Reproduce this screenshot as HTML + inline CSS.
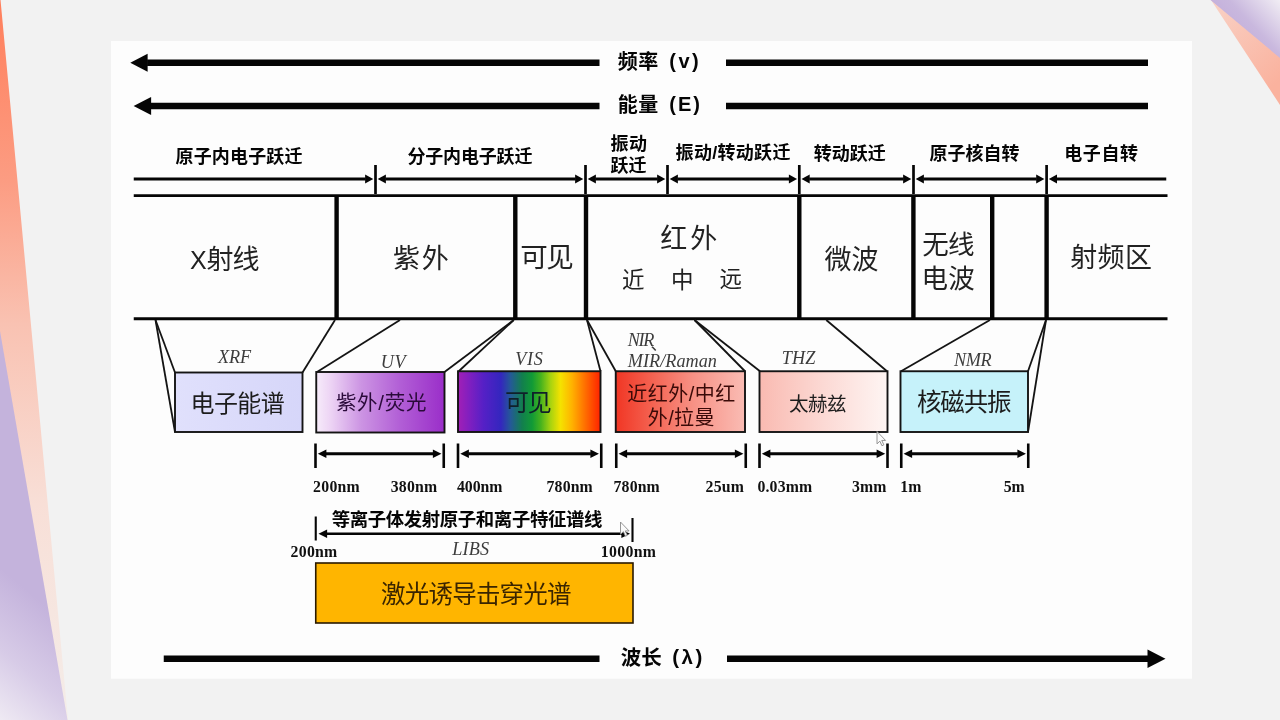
<!DOCTYPE html>
<html lang="zh-CN">
<head>
<meta charset="utf-8">
<title>电磁波谱与光谱分析技术</title>
<style>
html,body{margin:0;padding:0;background:#f2f2f2;}
body{width:1280px;height:720px;overflow:hidden;font-family:"Liberation Sans",sans-serif;}
svg{display:block;}
#dia{filter:blur(0.55px);}
.hb{font-family:"Liberation Sans","Noto Sans CJK SC",sans-serif;font-weight:bold;}
.kt{font-family:"Liberation Sans","Noto Sans CJK SC",sans-serif;}
</style>
</head>
<body>
<svg width="1280" height="720" viewBox="0 0 1280 720" font-family="'Liberation Serif', serif">
<defs>
<linearGradient id="gO1" x1="0" y1="0" x2="0" y2="1"><stop offset="0" stop-color="#ff7f5c"/><stop offset="0.25" stop-color="#fc9c82"/><stop offset="0.45" stop-color="#f9c2b2"/><stop offset="0.7" stop-color="#f8dfd7"/><stop offset="1" stop-color="#f4ede9"/></linearGradient>
<linearGradient id="gP1" gradientUnits="userSpaceOnUse" x1="34" y1="596" x2="-46" y2="692"><stop offset="0" stop-color="#c4b3dc"/><stop offset="0.5" stop-color="#d7cbe7"/><stop offset="1" stop-color="#f2eef5"/></linearGradient>
<linearGradient id="gP2" x1="0.3" y1="0.55" x2="1" y2="0"><stop offset="0" stop-color="#c3afdb"/><stop offset="0.35" stop-color="#c9b8de"/><stop offset="1" stop-color="#f1edf4"/></linearGradient>
<linearGradient id="gO2" x1="0" y1="0" x2="0.6" y2="1"><stop offset="0" stop-color="#f9d2c6"/><stop offset="1" stop-color="#fab29e"/></linearGradient>
<linearGradient id="gUV" x1="0" y1="0" x2="1" y2="0"><stop offset="0" stop-color="#f7ecfa"/><stop offset="0.12" stop-color="#ecd2f4"/><stop offset="0.35" stop-color="#cc94e3"/><stop offset="0.65" stop-color="#b25fd6"/><stop offset="1" stop-color="#9a2ec9"/></linearGradient>
<linearGradient id="gVIS" x1="0" y1="0" x2="1" y2="0"><stop offset="0" stop-color="#a21fb6"/><stop offset="0.08" stop-color="#801fc0"/><stop offset="0.18" stop-color="#5520c6"/><stop offset="0.30" stop-color="#3426be"/><stop offset="0.37" stop-color="#245a96"/><stop offset="0.45" stop-color="#127f4e"/><stop offset="0.52" stop-color="#119a36"/><stop offset="0.58" stop-color="#45b21e"/><stop offset="0.65" stop-color="#a8d30f"/><stop offset="0.72" stop-color="#f5e200"/><stop offset="0.80" stop-color="#ffb200"/><stop offset="0.89" stop-color="#ff7000"/><stop offset="1" stop-color="#ff2200"/></linearGradient>
<linearGradient id="gNIR" x1="0" y1="0" x2="1" y2="0"><stop offset="0" stop-color="#f13624"/><stop offset="0.3" stop-color="#f46554"/><stop offset="0.6" stop-color="#f79185"/><stop offset="1" stop-color="#fabcb4"/></linearGradient>
<linearGradient id="gTHZ" x1="0" y1="0" x2="1" y2="0"><stop offset="0" stop-color="#f9bab1"/><stop offset="0.5" stop-color="#fcd9d4"/><stop offset="1" stop-color="#fef5f3"/></linearGradient>
<linearGradient id="gXRF" x1="0" y1="0" x2="1" y2="0"><stop offset="0" stop-color="#e0e0fc"/><stop offset="1" stop-color="#d6d6f9"/></linearGradient>
</defs>
<rect x="0" y="0" width="1280" height="720" fill="#f2f2f2"/>
<polygon points="0,0 0.5,0 68,720 0,720" fill="url(#gO1)"/>
<polygon points="0,331 67.5,720 0,720" fill="url(#gP1)"/>
<polygon points="1211,0 1280,105 1280,0" fill="url(#gO2)"/>
<polygon points="1210.5,0 1280,58 1280,0" fill="url(#gP2)"/>
<rect x="111" y="41" width="1081" height="637.75" fill="#fdfdfd"/>
<g id="dia">
<polygon points="130.3,62.65 147.6,53.65 147.6,71.65" fill="#050505"/>
<line x1="147.1" y1="62.65" x2="599.5" y2="62.65" stroke="#050505" stroke-width="6.5"/>
<line x1="726" y1="62.65" x2="1148" y2="62.65" stroke="#050505" stroke-width="6.5"/>
<polygon points="133.6,106.05 151.1,97.05 151.1,115.05" fill="#050505"/>
<line x1="150.6" y1="106.05" x2="599.5" y2="106.05" stroke="#050505" stroke-width="6.5"/>
<line x1="726" y1="106.05" x2="1148" y2="106.05" stroke="#050505" stroke-width="6.5"/>
<line x1="163.75" y1="658.75" x2="599.5" y2="658.75" stroke="#050505" stroke-width="6.4"/>
<line x1="727" y1="658.75" x2="1148" y2="658.75" stroke="#050505" stroke-width="6.4"/>
<polygon points="1165.5,658.75 1147.5,649.5 1147.5,668" fill="#050505"/>
<text class="hb" x="617.8" y="69.1" font-size="20" letter-spacing="0.4" fill="#050505">频率</text>
<text class="hb" x="669.3" y="68.31" font-size="20" letter-spacing="2.5" fill="#050505">(v)</text>
<text class="hb" x="617.8" y="111.77" font-size="20" letter-spacing="0.5" fill="#050505">能量</text>
<text class="hb" x="669.3" y="110.81" font-size="20" letter-spacing="2" fill="#050505">(E)</text>
<text class="hb" x="620.7" y="665.03" font-size="20.5" fill="#050505">波长</text>
<text class="hb" x="672.3" y="664.22" font-size="20.5" letter-spacing="2.5" fill="#050505">(λ)</text>
<text class="hb" x="175.6" y="163.28" font-size="18" letter-spacing="0.14" fill="#050505">原子内电子跃迁</text>
<text class="hb" x="407.4" y="163.28" font-size="18" letter-spacing="-0.16" fill="#050505">分子内电子跃迁</text>
<text class="hb" x="610.6" y="150.29" font-size="18" letter-spacing="0.3" fill="#050505">振动</text>
<text class="hb" x="610.6" y="172" font-size="18" letter-spacing="-0.16" fill="#050505">跃迁</text>
<text class="hb" x="675.6" y="159.02" font-size="18" letter-spacing="0.3" fill="#050505">振动/转动跃迁</text>
<text class="hb" x="813.7" y="159.78" font-size="18" fill="#050505">转动跃迁</text>
<text class="hb" x="929.6" y="159.88" font-size="18" fill="#050505">原子核自转</text>
<text class="hb" x="1064.25" y="159.8" font-size="18" letter-spacing="0.6" fill="#050505">电子自转</text>
<line x1="133.75" y1="179" x2="365.6" y2="179" stroke="#050505" stroke-width="2.9"/>
<polygon points="373.3,179 365.1,174.4 365.1,183.6" fill="#050505"/>
<line x1="385.4" y1="179" x2="575.6" y2="179" stroke="#050505" stroke-width="2.9"/>
<polygon points="377.7,179 385.9,174.4 385.9,183.6" fill="#050505"/>
<polygon points="583.3,179 575.1,174.4 575.1,183.6" fill="#050505"/>
<line x1="595.4" y1="179" x2="657.6" y2="179" stroke="#050505" stroke-width="2.9"/>
<polygon points="587.7,179 595.9,174.4 595.9,183.6" fill="#050505"/>
<polygon points="665.3,179 657.1,174.4 657.1,183.6" fill="#050505"/>
<line x1="677.4" y1="179" x2="789.4" y2="179" stroke="#050505" stroke-width="2.9"/>
<polygon points="669.7,179 677.9,174.4 677.9,183.6" fill="#050505"/>
<polygon points="797.1,179 788.9,174.4 788.9,183.6" fill="#050505"/>
<line x1="809.2" y1="179" x2="903.6" y2="179" stroke="#050505" stroke-width="2.9"/>
<polygon points="801.5,179 809.7,174.4 809.7,183.6" fill="#050505"/>
<polygon points="911.3,179 903.1,174.4 903.1,183.6" fill="#050505"/>
<line x1="923.4" y1="179" x2="1036.7" y2="179" stroke="#050505" stroke-width="2.9"/>
<polygon points="915.7,179 923.9,174.4 923.9,183.6" fill="#050505"/>
<polygon points="1044.4,179 1036.2,174.4 1036.2,183.6" fill="#050505"/>
<line x1="1056.5" y1="179" x2="1166.25" y2="179" stroke="#050505" stroke-width="2.9"/>
<polygon points="1048.8,179 1057,174.4 1057,183.6" fill="#050505"/>
<line x1="375.5" y1="165" x2="375.5" y2="194" stroke="#050505" stroke-width="2.7"/>
<line x1="585.5" y1="165" x2="585.5" y2="194" stroke="#050505" stroke-width="2.7"/>
<line x1="667.5" y1="165" x2="667.5" y2="194" stroke="#050505" stroke-width="2.7"/>
<line x1="799.3" y1="165" x2="799.3" y2="194" stroke="#050505" stroke-width="2.7"/>
<line x1="913.5" y1="165" x2="913.5" y2="194" stroke="#050505" stroke-width="2.7"/>
<line x1="1046.6" y1="165" x2="1046.6" y2="194" stroke="#050505" stroke-width="2.7"/>
<line x1="133.75" y1="195.7" x2="1167.5" y2="195.7" stroke="#050505" stroke-width="2.8"/>
<line x1="133.75" y1="318.75" x2="1167.5" y2="318.75" stroke="#050505" stroke-width="2.8"/>
<line x1="336.6" y1="195" x2="336.6" y2="319.5" stroke="#050505" stroke-width="4.4"/>
<line x1="515.3" y1="195" x2="515.3" y2="319.5" stroke="#050505" stroke-width="4.4"/>
<line x1="586" y1="195" x2="586" y2="319.5" stroke="#050505" stroke-width="4.4"/>
<line x1="799.3" y1="195" x2="799.3" y2="319.5" stroke="#050505" stroke-width="4.4"/>
<line x1="913.4" y1="195" x2="913.4" y2="319.5" stroke="#050505" stroke-width="4.4"/>
<line x1="992.2" y1="195" x2="992.2" y2="319.5" stroke="#050505" stroke-width="4.4"/>
<line x1="1046.6" y1="195" x2="1046.6" y2="319.5" stroke="#050505" stroke-width="4.4"/>
<text class="kt" x="190" y="269.13" font-size="25" fill="#222">X</text>
<text class="kt" x="206.6" y="269.43" font-size="27" letter-spacing="-1.1" fill="#222">射线</text>
<text class="kt" x="393" y="267.89" font-size="27" letter-spacing="1.7" fill="#222">紫外</text>
<text class="kt" x="520.3" y="267.45" font-size="27.5" letter-spacing="-1.5" fill="#222">可见</text>
<text class="kt" x="660.3" y="248.15" font-size="27" letter-spacing="2.9" fill="#222">红外</text>
<text class="kt" x="622.1" y="287.68" font-size="22.5" fill="#222">近</text>
<text class="kt" x="671" y="287.53" font-size="22.5" fill="#222">中</text>
<text class="kt" x="719.5" y="287.34" font-size="22.5" fill="#222">远</text>
<text class="kt" x="824.5" y="269.18" font-size="27" fill="#222">微波</text>
<text class="kt" x="922.3" y="253.87" font-size="26.5" letter-spacing="-0.9" fill="#222">无线</text>
<text class="kt" x="921.4" y="288.09" font-size="26.5" letter-spacing="0.3" fill="#222">电波</text>
<text class="kt" x="1070.3" y="267.21" font-size="27" letter-spacing="0.3" fill="#222">射频区</text>
<line x1="155.5" y1="320" x2="175" y2="372.5" stroke="#141414" stroke-width="1.8"/>
<line x1="155.5" y1="320" x2="175" y2="432" stroke="#141414" stroke-width="1.8"/>
<line x1="335" y1="320" x2="302.5" y2="372.5" stroke="#141414" stroke-width="1.8"/>
<line x1="400" y1="320" x2="317" y2="372" stroke="#141414" stroke-width="1.8"/>
<line x1="513.75" y1="320" x2="444.5" y2="372" stroke="#141414" stroke-width="1.8"/>
<line x1="513.75" y1="320" x2="458.75" y2="371.25" stroke="#141414" stroke-width="1.8"/>
<line x1="587" y1="320" x2="600.5" y2="371.25" stroke="#141414" stroke-width="1.8"/>
<line x1="587" y1="320" x2="615.75" y2="371.25" stroke="#141414" stroke-width="1.8"/>
<line x1="694.5" y1="320" x2="745" y2="371.25" stroke="#141414" stroke-width="1.8"/>
<line x1="694.5" y1="320" x2="760" y2="371.25" stroke="#141414" stroke-width="1.8"/>
<line x1="826.25" y1="320" x2="887" y2="371.25" stroke="#141414" stroke-width="1.8"/>
<line x1="990" y1="320" x2="901" y2="371.25" stroke="#141414" stroke-width="1.8"/>
<line x1="1046" y1="320" x2="1028" y2="371.25" stroke="#141414" stroke-width="1.8"/>
<line x1="1046" y1="320" x2="1028" y2="432" stroke="#141414" stroke-width="1.8"/>
<rect x="175" y="372.5" width="127.5" height="59.5" fill="url(#gXRF)" stroke="#141414" stroke-width="1.9"/>
<rect x="316.25" y="372" width="128.25" height="60.5" fill="url(#gUV)" stroke="#141414" stroke-width="1.9"/>
<rect x="458" y="371.25" width="142.5" height="60.75" fill="url(#gVIS)" stroke="#141414" stroke-width="1.9"/>
<rect x="615.75" y="371.25" width="129.25" height="60.75" fill="url(#gNIR)" stroke="#141414" stroke-width="1.9"/>
<rect x="759.5" y="371.25" width="128" height="60.75" fill="url(#gTHZ)" stroke="#141414" stroke-width="1.9"/>
<rect x="900.5" y="371.25" width="127.5" height="60.75" fill="#c6f2fa" stroke="#141414" stroke-width="1.9"/>
<text class="kt" x="190.5" y="412.02" font-size="24" letter-spacing="-0.6" fill="#1c1c1c">电子能谱</text>
<text class="kt" x="335.9" y="410.44" font-size="20.5" letter-spacing="0.7" fill="#2a0a3a">紫外/荧光</text>
<text class="kt" x="505" y="410.78" font-size="24" letter-spacing="-1.3" fill="#10202a">可见</text>
<text class="kt" x="627.2" y="400.64" font-size="20" letter-spacing="0.5" fill="#3a0a08">近红外/中红</text>
<text class="kt" x="647.8" y="425.03" font-size="20" letter-spacing="0.35" fill="#3a0a08">外/拉曼</text>
<text class="kt" x="789" y="410.75" font-size="19.5" letter-spacing="-0.5" fill="#1c1c1c">太赫兹</text>
<text class="kt" x="917" y="411.17" font-size="24.5" letter-spacing="-1.15" fill="#1c1c1c">核磁共振</text>
<text x="218.1" y="363.21" font-size="18.2" font-style="italic" letter-spacing="-0.179" fill="#3c3c3c">XRF</text>
<text x="380.83" y="367.57" font-size="18.2" font-style="italic" letter-spacing="0.659" fill="#3c3c3c">UV</text>
<text x="515.3" y="365.14" font-size="18.2" font-style="italic" letter-spacing="0.608" fill="#3c3c3c">VIS</text>
<text x="627.63" y="345.96" font-size="18.2" font-style="italic" letter-spacing="-1.324" fill="#3c3c3c">NIR</text>
<text class="kt" x="650.5" y="350.18" font-size="17" fill="#3c3c3c">、</text>
<text x="627.71" y="367.21" font-size="18.2" font-style="italic" letter-spacing="0.042" fill="#3c3c3c">MIR/Raman</text>
<text x="781.81" y="363.83" font-size="18.2" font-style="italic" letter-spacing="0.076" fill="#3c3c3c">THZ</text>
<text x="953.88" y="365.96" font-size="18.2" font-style="italic" letter-spacing="-0.374" fill="#3c3c3c">NMR</text>
<line x1="315.5" y1="443.5" x2="315.5" y2="468" stroke="#050505" stroke-width="2.6"/>
<line x1="443.75" y1="443.5" x2="443.75" y2="468" stroke="#050505" stroke-width="2.6"/>
<line x1="325.9" y1="453.75" x2="433.35" y2="453.75" stroke="#050505" stroke-width="2.9"/>
<polygon points="317.8,453.75 326.4,449.45 326.4,458.05" fill="#050505"/>
<polygon points="441.45,453.75 432.85,449.45 432.85,458.05" fill="#050505"/>
<line x1="458" y1="443.5" x2="458" y2="468" stroke="#050505" stroke-width="2.6"/>
<line x1="601.25" y1="443.5" x2="601.25" y2="468" stroke="#050505" stroke-width="2.6"/>
<line x1="468.4" y1="453.75" x2="590.85" y2="453.75" stroke="#050505" stroke-width="2.9"/>
<polygon points="460.3,453.75 468.9,449.45 468.9,458.05" fill="#050505"/>
<polygon points="598.95,453.75 590.35,449.45 590.35,458.05" fill="#050505"/>
<line x1="616.25" y1="443.5" x2="616.25" y2="468" stroke="#050505" stroke-width="2.6"/>
<line x1="745.75" y1="443.5" x2="745.75" y2="468" stroke="#050505" stroke-width="2.6"/>
<line x1="626.65" y1="453.75" x2="735.35" y2="453.75" stroke="#050505" stroke-width="2.9"/>
<polygon points="618.55,453.75 627.15,449.45 627.15,458.05" fill="#050505"/>
<polygon points="743.45,453.75 734.85,449.45 734.85,458.05" fill="#050505"/>
<line x1="759.5" y1="443.5" x2="759.5" y2="468" stroke="#050505" stroke-width="2.6"/>
<line x1="887.5" y1="443.5" x2="887.5" y2="468" stroke="#050505" stroke-width="2.6"/>
<line x1="769.9" y1="453.75" x2="877.1" y2="453.75" stroke="#050505" stroke-width="2.9"/>
<polygon points="761.8,453.75 770.4,449.45 770.4,458.05" fill="#050505"/>
<polygon points="885.2,453.75 876.6,449.45 876.6,458.05" fill="#050505"/>
<line x1="901.25" y1="443.5" x2="901.25" y2="468" stroke="#050505" stroke-width="2.6"/>
<line x1="1028.25" y1="443.5" x2="1028.25" y2="468" stroke="#050505" stroke-width="2.6"/>
<line x1="911.65" y1="453.75" x2="1017.85" y2="453.75" stroke="#050505" stroke-width="2.9"/>
<polygon points="903.55,453.75 912.15,449.45 912.15,458.05" fill="#050505"/>
<polygon points="1025.95,453.75 1017.35,449.45 1017.35,458.05" fill="#050505"/>
<text x="313.09" y="492.08" font-size="15.8" font-weight="bold" letter-spacing="0.259" fill="#111">200nm</text>
<text x="390.66" y="492.08" font-size="15.8" font-weight="bold" letter-spacing="0.241" fill="#111">380nm</text>
<text x="457.03" y="492.08" font-size="15.8" font-weight="bold" letter-spacing="-0.041" fill="#111">400nm</text>
<text x="546.6" y="492.08" font-size="15.8" font-weight="bold" letter-spacing="0.131" fill="#111">780nm</text>
<text x="613.6" y="492.08" font-size="15.8" font-weight="bold" letter-spacing="0.131" fill="#111">780nm</text>
<text x="705.59" y="492.08" font-size="15.8" font-weight="bold" letter-spacing="0.228" fill="#111">25um</text>
<text x="757.4" y="492.08" font-size="15.8" font-weight="bold" letter-spacing="0.18" fill="#111">0.03mm</text>
<text x="851.91" y="492.08" font-size="15.8" font-weight="bold" letter-spacing="0.196" fill="#111">3mm</text>
<text x="900.23" y="492.08" font-size="15.8" font-weight="bold" letter-spacing="0.224" fill="#111">1m</text>
<text x="1003.87" y="492.08" font-size="15.8" font-weight="bold" letter-spacing="-0.159" fill="#111">5m</text>
<text class="hb" x="331.7" y="526.07" font-size="18.4" letter-spacing="-0.37" fill="#050505">等离子体发射原子和离子特征谱线</text>
<line x1="315.75" y1="516.5" x2="315.75" y2="540.5" stroke="#050505" stroke-width="2.1"/>
<line x1="632.5" y1="518" x2="632.5" y2="542" stroke="#050505" stroke-width="2.1"/>
<line x1="326.6" y1="533.75" x2="621.9" y2="533.75" stroke="#050505" stroke-width="2.4"/>
<polygon points="318.5,533.75 327.1,529.55 327.1,537.95" fill="#050505"/>
<polygon points="630,533.75 621.4,529.55 621.4,537.95" fill="#050505"/>
<text x="290.59" y="557.18" font-size="15.8" font-weight="bold" letter-spacing="0.259" fill="#111">200nm</text>
<text x="600.73" y="557.18" font-size="15.8" font-weight="bold" letter-spacing="0.347" fill="#111">1000nm</text>
<text x="452.21" y="555.14" font-size="18.2" font-style="italic" letter-spacing="0.143" fill="#3c3c3c">LIBS</text>
<rect x="315.75" y="563" width="317.25" height="60" fill="#ffb500" stroke="#2a1a00" stroke-width="1.6"/>
<text class="kt" x="381.1" y="603.01" font-size="24.5" letter-spacing="-0.8" fill="#3a2500">激光诱导击穿光谱</text>
<polygon points="877,431.5 877,443.85 879.85,441.19 881.94,445.75 883.84,444.8 881.75,440.43 885.55,440.43" fill="#fbfbfb" stroke="#8a8a8a" stroke-width="0.9"/>
<polygon points="620.5,522 620.5,534.35 623.35,531.69 625.44,536.25 627.34,535.3 625.25,530.93 629.05,530.93" fill="#fbfbfb" stroke="#8a8a8a" stroke-width="0.9"/>
</g>
</svg>
</body>
</html>
